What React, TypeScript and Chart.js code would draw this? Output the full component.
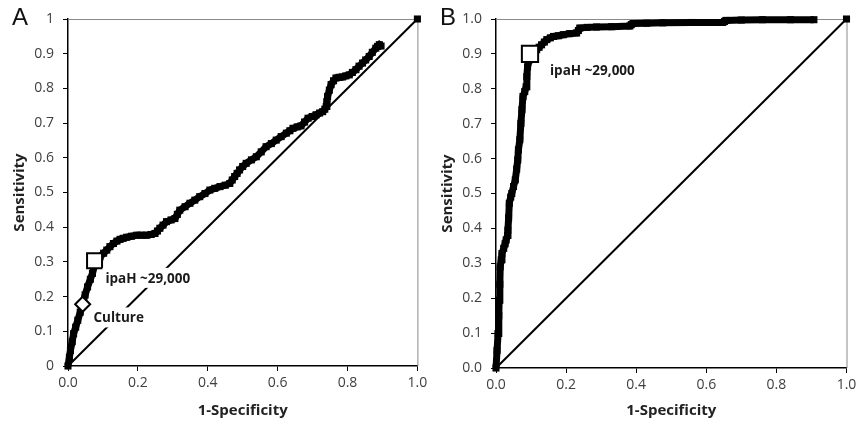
import React, { useEffect, useRef } from "react";
import { Chart, registerables } from "chart.js";
Chart.register(...registerables);

// ---------- data ----------
const X_TICK_LABELS = ["0.0", "0.2", "0.4", "0.6", "0.8", "1.0"];
const A_Y_TICK_LABELS = ["0", "0.1", "0.2", "0.3", "0.4", "0.5", "0.6", "0.7", "0.8", "0.9", "1"];
const B_Y_TICK_LABELS = ["0.0", "0.1", "0.2", "0.3", "0.4", "0.5", "0.6", "0.7", "0.8", "0.9", "1.0"];

const A_FPR = [0, 0.004, 0.007, 0.012, 0.016, 0.022, 0.028, 0.035, 0.042, 0.049, 0.056, 0.064, 0.07, 0.076, 0.084, 0.092, 0.102, 0.111, 0.12, 0.13, 0.14, 0.149, 0.158, 0.168, 0.182, 0.197, 0.21, 0.225, 0.238, 0.249, 0.256, 0.263, 0.272, 0.282, 0.295, 0.306, 0.313, 0.32, 0.335, 0.349, 0.363, 0.377, 0.392, 0.406, 0.42, 0.435, 0.45, 0.463, 0.47, 0.477, 0.484, 0.491, 0.5, 0.51, 0.525, 0.539, 0.553, 0.567, 0.582, 0.596, 0.61, 0.625, 0.635, 0.644, 0.656, 0.667, 0.677, 0.687, 0.699, 0.71, 0.72, 0.729, 0.735, 0.739, 0.741, 0.743, 0.748, 0.753, 0.76, 0.767, 0.776, 0.786, 0.795, 0.805, 0.814, 0.824, 0.833, 0.843, 0.852, 0.862, 0.871, 0.881, 0.886, 0.891, 0.896];
const A_TPR = [0, 0.025, 0.045, 0.07, 0.093, 0.112, 0.132, 0.155, 0.18, 0.205, 0.228, 0.25, 0.267, 0.29, 0.305, 0.315, 0.325, 0.334, 0.344, 0.353, 0.36, 0.365, 0.368, 0.371, 0.374, 0.377, 0.377, 0.377, 0.379, 0.382, 0.389, 0.397, 0.406, 0.416, 0.421, 0.425, 0.437, 0.449, 0.459, 0.469, 0.478, 0.488, 0.497, 0.507, 0.512, 0.517, 0.521, 0.526, 0.536, 0.546, 0.555, 0.565, 0.575, 0.584, 0.594, 0.603, 0.617, 0.632, 0.641, 0.651, 0.661, 0.671, 0.678, 0.685, 0.689, 0.692, 0.703, 0.714, 0.719, 0.724, 0.729, 0.733, 0.74, 0.748, 0.762, 0.777, 0.795, 0.811, 0.822, 0.83, 0.832, 0.833, 0.836, 0.839, 0.846, 0.854, 0.864, 0.873, 0.882, 0.892, 0.904, 0.916, 0.921, 0.926, 0.922];

const B_FPR = [0, 0.003, 0.006, 0.008, 0.009, 0.011, 0.012, 0.015, 0.017, 0.022, 0.026, 0.029, 0.033, 0.034, 0.036, 0.038, 0.042, 0.045, 0.05, 0.055, 0.059, 0.062, 0.064, 0.068, 0.071, 0.074, 0.077, 0.082, 0.086, 0.088, 0.09, 0.095, 0.1, 0.108, 0.116, 0.123, 0.13, 0.138, 0.145, 0.155, 0.164, 0.178, 0.192, 0.21, 0.23, 0.235, 0.239, 0.26, 0.287, 0.33, 0.382, 0.386, 0.391, 0.43, 0.476, 0.56, 0.647, 0.652, 0.656, 0.7, 0.76, 0.84, 0.907];
const B_TPR = [0, 0.05, 0.099, 0.15, 0.194, 0.24, 0.29, 0.31, 0.328, 0.343, 0.356, 0.367, 0.38, 0.395, 0.43, 0.472, 0.49, 0.5, 0.52, 0.539, 0.57, 0.596, 0.625, 0.654, 0.701, 0.74, 0.778, 0.792, 0.806, 0.835, 0.863, 0.883, 0.898, 0.905, 0.912, 0.919, 0.926, 0.934, 0.941, 0.946, 0.95, 0.952, 0.955, 0.958, 0.96, 0.967, 0.974, 0.976, 0.977, 0.978, 0.98, 0.984, 0.987, 0.988, 0.989, 0.99, 0.99, 0.993, 0.996, 0.997, 0.998, 0.998, 0.998];

const DIAG_X = [0, 1];
const DIAG_Y = [0, 1];

const A_CUTOFF = { x: 0.076, y: 0.303 };
const A_CULTURE = { x: 0.042, y: 0.178 };
const B_CUTOFF = { x: 0.097, y: 0.9 };

const CUTOFF_LABEL = "ipaH ~29,000";
const CULTURE_LABEL = "Culture";
const X_TITLE = "1-Specificity";
const Y_TITLE = "Sensitivity";

// ---------- helpers ----------
const zip = (xs: number[], ys: number[]) => xs.map((x, i) => ({ x, y: ys[i] }));
const TICK_FONT = { family: "'Open Sans', sans-serif", size: 14 };
const TITLE_FONT = { family: "'Open Sans', sans-serif", size: 15, weight: "bold" as const };
const NOTE_FONT = "bold 13.5px 'Open Sans', sans-serif";

type Note = { text: string; x: number; y: number };
type PanelSpec = {
  letter: string;
  letterX: number;
  yLabels: string[];
  fpr: number[];
  tpr: number[];
  markers: { x: number; y: number; style: string; r: number }[];
  notes: Note[];
  yWidth: number;
  xHeight: number;
  yTitlePad: number;
};

function buildChart(canvas: HTMLCanvasElement, p: PanelSpec) {
  const decor = {
    id: "decor",
    beforeDatasetsDraw(chart: any) {
      const { ctx, chartArea } = chart;
      ctx.save();
      ctx.strokeStyle = "#8a8a8a";
      ctx.lineWidth = 1;
      ctx.beginPath();
      ctx.moveTo(chartArea.left, chartArea.top + 0.5);
      ctx.lineTo(chartArea.right + 0.5, chartArea.top + 0.5);
      ctx.lineTo(chartArea.right + 0.5, chartArea.bottom);
      ctx.stroke();
      ctx.restore();
    },
    afterDatasetsDraw(chart: any) {
      const { ctx } = chart;
      const xs = chart.scales.x;
      const ys = chart.scales.y;
      ctx.save();
      ctx.font = NOTE_FONT;
      ctx.textBaseline = "middle";
      ctx.textAlign = "left";
      for (const n of p.notes) {
        const px = xs.getPixelForValue(n.x);
        const py = ys.getPixelForValue(n.y);
        const w = ctx.measureText(n.text).width;
        ctx.fillStyle = "#ffffff";
        ctx.fillRect(px - 3, py - 10, w + 6, 20);
        ctx.fillStyle = "#1a1a1a";
        ctx.fillText(n.text, px, py + 1);
      }
      ctx.restore();
    },
    afterDraw(chart: any) {
      const { ctx } = chart;
      ctx.save();
      ctx.font = "24px 'Liberation Sans', Arial, sans-serif";
      ctx.fillStyle = "#111";
      ctx.textBaseline = "alphabetic";
      ctx.textAlign = "left";
      ctx.fillText(p.letter, p.letterX, 25);
      ctx.restore();
    },
  };

  return new Chart(canvas, {
    type: "scatter",
    data: {
      datasets: [
        ...p.markers.map((m) => ({
          data: [{ x: m.x, y: m.y }],
          pointStyle: m.style,
          pointRadius: m.r,
          pointBackgroundColor: "#ffffff",
          pointBorderColor: "#000000",
          pointBorderWidth: 2,
          showLine: false,
          order: 0,
          clip: false,
        })),
        {
          data: zip(p.fpr, p.tpr),
          showLine: true,
          borderColor: "#000000",
          borderWidth: 7,
          pointStyle: "rect",
          pointRadius: 5,
          pointBackgroundColor: "#000000",
          pointBorderWidth: 0,
          order: 1,
          clip: false,
        },
        {
          data: zip(DIAG_X, DIAG_Y),
          showLine: true,
          borderColor: "#000000",
          borderWidth: 2,
          pointStyle: "rect",
          pointRadius: [0, 5],
          pointBackgroundColor: "#000000",
          pointBorderWidth: 0,
          order: 2,
          clip: false,
        },
      ] as any,
    },
    options: {
      responsive: false,
      animation: false,
      devicePixelRatio: 1,
      layout: { padding: { left: 0, top: 19, right: 12, bottom: 0 } },
      plugins: { legend: { display: false }, tooltip: { enabled: false }, title: { display: false } },
      events: [],
      scales: {
        x: {
          type: "linear",
          min: 0,
          max: 1,
          grid: { display: true, drawOnChartArea: false, drawTicks: true, tickLength: 5, color: "#000", lineWidth: 1 },
          border: { display: true, color: "#000", width: 1.5 },
          ticks: {
            stepSize: 0.2,
            padding: 4,
            color: "#404040",
            font: TICK_FONT,
            maxRotation: 0,
            autoSkip: false,
            callback: (_v: any, i: number) => X_TICK_LABELS[i],
          },
          title: { display: true, text: X_TITLE, color: "#222", font: TITLE_FONT, padding: { top: 0, bottom: 3 } },
          afterFit: (s: any) => {
            s.height = p.xHeight;
            s.paddingLeft = 0;
            s.paddingRight = 0;
          },
        },
        y: {
          type: "linear",
          min: 0,
          max: 1,
          grid: { display: true, drawOnChartArea: false, drawTicks: true, tickLength: 5, color: "#000", lineWidth: 1 },
          border: { display: true, color: "#000", width: 1.5 },
          ticks: {
            stepSize: 0.1,
            padding: 9,
            color: "#404040",
            font: TICK_FONT,
            autoSkip: false,
            callback: (_v: any, i: number) => p.yLabels[i],
          },
          title: { display: true, text: Y_TITLE, color: "#222", font: TITLE_FONT, padding: { top: p.yTitlePad, bottom: 0 } },
          afterFit: (s: any) => {
            s.width = p.yWidth;
            s.paddingTop = 0;
            s.paddingBottom = 0;
          },
        },
      },
    } as any,
    plugins: [decor],
  });
}

const PANEL_A: PanelSpec = {
  letter: "A",
  letterX: 12,
  yLabels: A_Y_TICK_LABELS,
  fpr: A_FPR,
  tpr: A_TPR,
  markers: [
    { x: A_CUTOFF.x, y: A_CUTOFF.y, style: "rect", r: 10.6 },
    { x: A_CULTURE.x, y: A_CULTURE.y, style: "rectRot", r: 7.5 },
  ],
  notes: [
    { text: CUTOFF_LABEL, x: 0.107, y: 0.254 },
    { text: CULTURE_LABEL, x: 0.073, y: 0.14 },
  ],
  yWidth: 68,
  xHeight: 57,
  yTitlePad: 11,
};

const PANEL_B: PanelSpec = {
  letter: "B",
  letterX: 10,
  yLabels: B_Y_TICK_LABELS,
  fpr: B_FPR,
  tpr: B_TPR,
  markers: [{ x: B_CUTOFF.x, y: B_CUTOFF.y, style: "rect", r: 11.5 }],
  notes: [{ text: CUTOFF_LABEL, x: 0.154, y: 0.854 }],
  yWidth: 66,
  xHeight: 55,
  yTitlePad: 9,
};

function Panel({ spec, left }: { spec: PanelSpec; left: number }) {
  const ref = useRef<HTMLCanvasElement | null>(null);
  useEffect(() => {
    if (!ref.current) return;
    const chart = buildChart(ref.current, spec);
    return () => chart.destroy();
  }, [spec]);
  return (
    <div style={{ position: "absolute", left, top: 0, width: 430, height: 423 }}>
      <canvas ref={ref} width={430} height={423} style={{ display: "block", width: 430, height: 423 }} />
    </div>
  );
}

export default function App() {
  return (
    <div style={{ position: "absolute", left: 0, top: 0, width: 860, height: 423, background: "#fff", overflow: "hidden" }}>
      <Panel spec={PANEL_A} left={0} />
      <Panel spec={PANEL_B} left={430} />
    </div>
  );
}
